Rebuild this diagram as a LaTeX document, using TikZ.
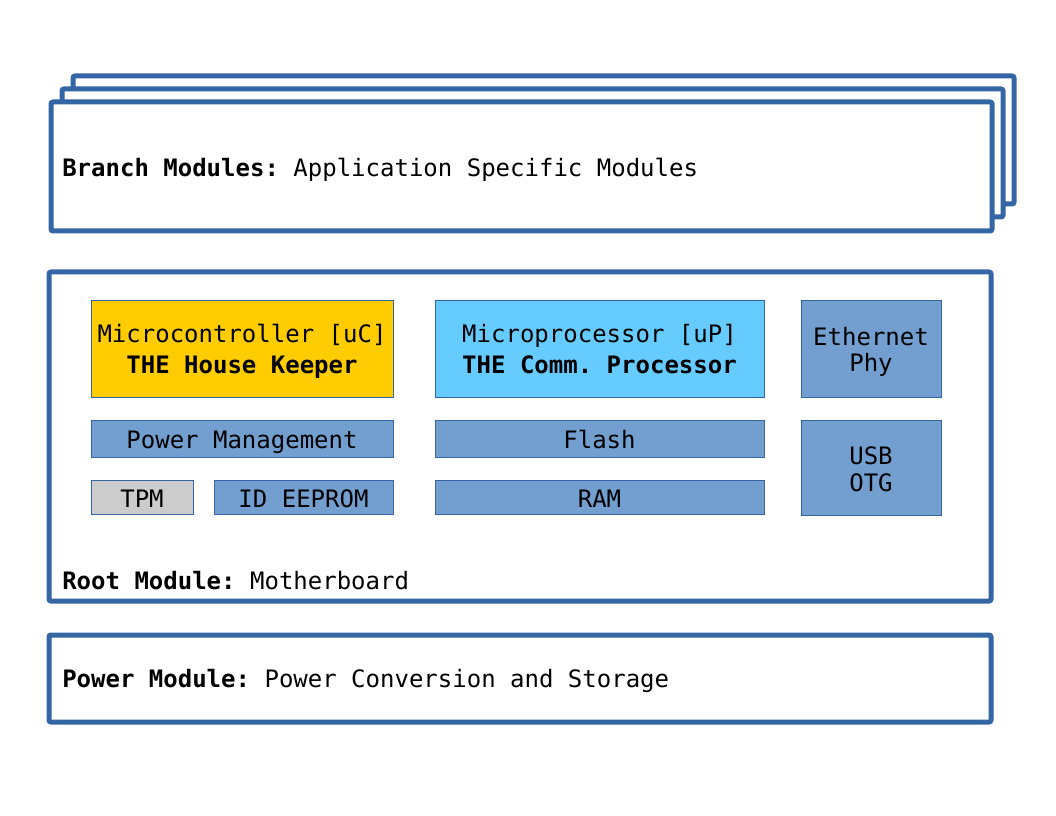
\documentclass[tikz,border=0pt]{standalone}
\usepackage{fontspec}
\setmonofont{DejaVu Sans Mono}
\usetikzlibrary{calc}

\definecolor{modblue}{HTML}{3465A4}
\definecolor{partblue}{HTML}{729FCF}
\definecolor{ucyellow}{HTML}{FFCC00}
\definecolor{upcyan}{HTML}{66CCFF}
\definecolor{tpmgray}{HTML}{CCCCCC}

% move a line of text down, keeping its box
\newcommand{\lowerline}[2]{\raisebox{-#1}[\height][\depth]{#2}}

\begin{document}
\begin{tikzpicture}[x=0.75pt,y=-0.75pt,
  module/.style={draw=modblue, line width=3.75pt, rounded corners=1.5pt, fill=white},
  part/.style={draw=modblue, line width=0.75pt, fill=partblue, inner sep=0pt, align=center,
    font=\ttfamily\fontsize{18}{20}\selectfont},
  bigpart/.style={part, font=\ttfamily\fontsize{18}{23.25}\selectfont},
  onepart/.style={part, text height=19pt, text depth=3.4pt},
  label/.style={anchor=base west, inner sep=0pt, font=\ttfamily\fontsize{18}{21.5}\selectfont}]

% the page
\useasboundingbox (0,0) rectangle (1056,816);

% the branch modules, stacked
\draw[module] (73,76) rectangle (1014,204);
\draw[module] (62,89) rectangle (1003,217);
\draw[module] (51,102) rectangle (992,231);
\node[label] (branch) at (62,177) {\textbf{Branch Modules:} Application Specific Modules};

% the root module
\draw[module] (49,272) rectangle (991,601);
\node[label] (root) at (62,589.5) {\textbf{Root Module:} Motherboard};

\node[bigpart, fill=ucyellow, minimum width=226.5pt, minimum height=72pt] (uc) at (242,349)
  {\lowerline{1.5pt}{Microcontroller [uC]}\\\lowerline{1.5pt}{\textbf{THE House Keeper}}};
\node[bigpart, fill=upcyan, minimum width=246.75pt, minimum height=72pt] (up) at (599.5,349)
  {Microprocessor [uP]\\\textbf{THE Comm. Processor}};
\node[part, minimum width=105pt, minimum height=72pt] (eth) at (871,349)
  {\lowerline{2.25pt}{Ethernet}\\\lowerline{2.25pt}{Phy}};

\node[onepart, minimum width=226.5pt, minimum height=27.75pt] (pm) at (242,438.5) {Power Management};
\node[onepart, minimum width=246.75pt, minimum height=27.75pt] (flash) at (599.5,438.5) {Flash};
\node[part, minimum width=105pt, minimum height=71.25pt] (usb) at (871,467.5)
  {\lowerline{1.1pt}{USB}\\\lowerline{1.1pt}{OTG}};

\node[onepart, fill=tpmgray, minimum width=76.5pt, minimum height=25.5pt] (tpm) at (142,497) {TPM};
\node[onepart, minimum width=134.25pt, minimum height=25.5pt] (eeprom) at (303.5,497) {ID EEPROM};
\node[onepart, minimum width=246.75pt, minimum height=25.5pt] (ram) at (599.5,497) {RAM};

% the power module
\draw[module] (49,635) rectangle (991,722);
\node[label] (power) at (62,687) {\textbf{Power Module:} Power Conversion and Storage};

\end{tikzpicture}
\end{document}
